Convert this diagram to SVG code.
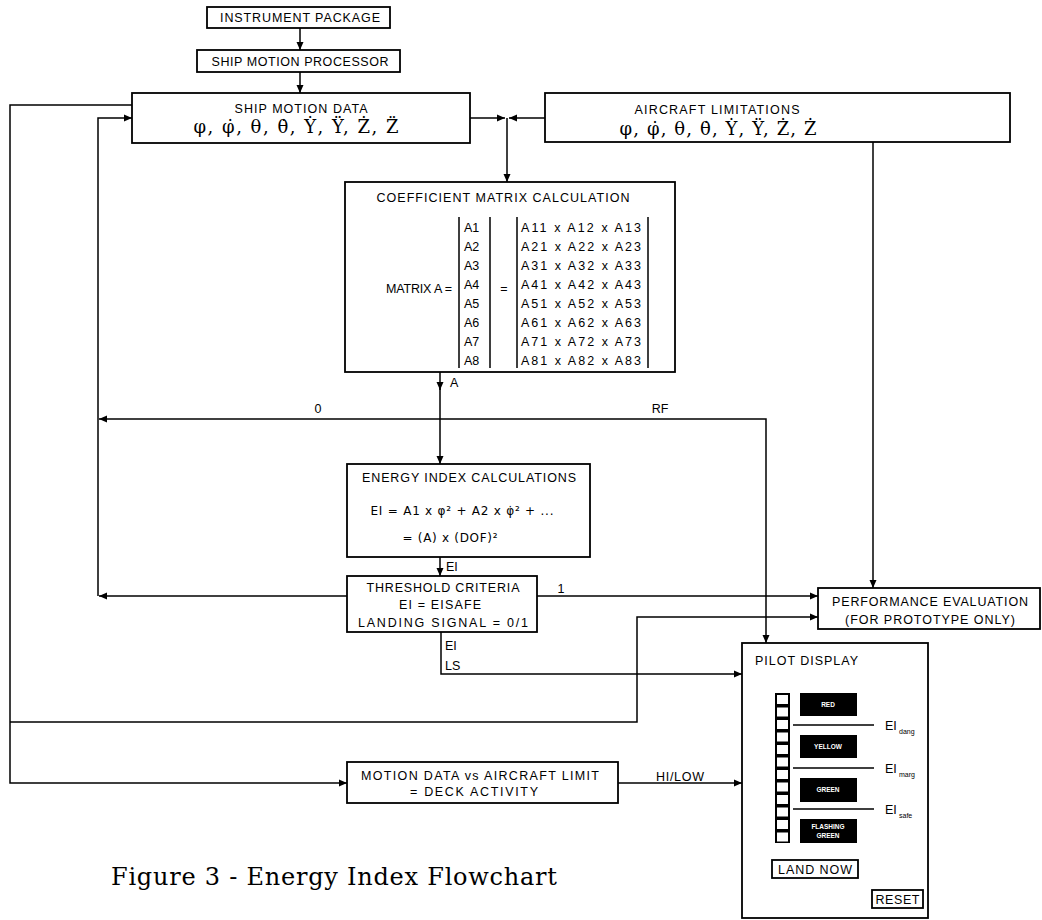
<svg xmlns="http://www.w3.org/2000/svg" width="1042" height="920" viewBox="0 0 1042 920">
<style>
.box{fill:#fff;stroke:#000;stroke-width:1.8}
.ln{fill:none;stroke:#000;stroke-width:1.5}
.t{font-family:"Liberation Sans","DejaVu Sans",sans-serif;font-size:12.5px;fill:#000;text-anchor:middle}
.tl{font-family:"Liberation Sans","DejaVu Sans",sans-serif;font-size:12.5px;fill:#000}
.f{font-family:"DejaVu Sans","Liberation Sans",sans-serif;font-size:12px;fill:#000;text-anchor:middle}
.g{font-family:"DejaVu Serif","Liberation Serif",serif;font-size:18px;fill:#000;text-anchor:middle}
.w{font-family:"Liberation Sans","DejaVu Sans",sans-serif;font-size:6.5px;font-weight:bold;fill:#fff;text-anchor:middle}
.sub{font-family:"Liberation Sans","DejaVu Sans",sans-serif;font-size:7px;fill:#000}
.cap{font-family:"DejaVu Serif","Liberation Serif",serif;font-size:24px;fill:#000}
</style>
<defs>
<marker id="arr" markerWidth="8" markerHeight="8" refX="8" refY="4" orient="auto" markerUnits="userSpaceOnUse">
<path d="M0,0.5 L8,4 L0,7.5 z" fill="#000"/>
</marker>
</defs>
<rect width="1042" height="920" fill="#fff"/>

<g id="connectors">
<path class="ln" d="M300,28 V50" marker-end="url(#arr)"/>
<path class="ln" d="M300,72 V93" marker-end="url(#arr)"/>
<path class="ln" d="M470,118 H505" marker-end="url(#arr)"/>
<path class="ln" d="M545,118 H509" marker-end="url(#arr)"/>
<path class="ln" d="M507,118 V182" marker-end="url(#arr)"/>
<path class="ln" d="M440,372 V390" marker-end="url(#arr)"/>
<path class="ln" d="M440,388 V464" marker-end="url(#arr)"/>
<path class="ln" d="M440,419 H99" marker-end="url(#arr)"/>
<path class="ln" d="M440,419 H766 V643" marker-end="url(#arr)"/>
<path class="ln" d="M440,557 V576" marker-end="url(#arr)"/>
<path class="ln" d="M347,596 H99" marker-end="url(#arr)"/>
<path class="ln" d="M98,596 V118 H132" marker-end="url(#arr)"/>
<path class="ln" d="M537,596 H818" marker-end="url(#arr)"/>
<path class="ln" d="M441,632 V674 H742" marker-end="url(#arr)"/>
<path class="ln" d="M873,142 V588" marker-end="url(#arr)"/>
<path class="ln" d="M132,105 H10 V783 H347" marker-end="url(#arr)"/>
<path class="ln" d="M10,722 H637 V617 H818" marker-end="url(#arr)"/>
<path class="ln" d="M618,783 H742" marker-end="url(#arr)"/>
<text class="t" x="318" y="413">0</text>
<text class="t" x="660" y="413">RF</text>
<text class="tl" x="450" y="387">A</text>
<text class="tl" x="446" y="571">EI</text>
<text class="t" x="561" y="593">1</text>
<text class="tl" x="445" y="650">EI</text>
<text class="tl" x="445" y="670">LS</text>
<text class="t" x="680" y="781" textLength="48">HI/LOW</text>
</g>

<g id="instrument-package">
<rect class="box" x="207" y="7" width="183" height="21"/>
<text class="t" x="300" y="22" textLength="160">INSTRUMENT PACKAGE</text>
</g>

<g id="ship-motion-processor">
<rect class="box" x="197" y="50" width="203" height="22"/>
<text class="t" x="300" y="66" textLength="177">SHIP MOTION PROCESSOR</text>
</g>

<g id="ship-motion-data">
<rect class="box" x="132" y="93" width="338" height="50"/>
<text class="t" x="301" y="113" textLength="133">SHIP MOTION DATA</text>
<text class="g" x="296" y="133" textLength="205">φ, φ̇, θ, θ̇, Ẏ, Ÿ, Ż, Z̈</text>
</g>

<g id="aircraft-limitations">
<rect class="box" x="545" y="93" width="465" height="49"/>
<text class="t" x="717" y="114" textLength="165">AIRCRAFT LIMITATIONS</text>
<text class="g" x="718" y="135" textLength="197">φ, φ̇, θ, θ̇, Ẏ, Ÿ, Ż, Ż</text>
</g>

<g id="coefficient-matrix">
<rect class="box" x="345" y="182" width="330" height="190"/>
<text class="t" x="503" y="202" textLength="253">COEFFICIENT MATRIX CALCULATION</text>
<text class="tl" x="386" y="293" textLength="66">MATRIX A =</text>
<path class="ln" d="M459,217 V368 M490,217 V368 M517,217 V368 M648,217 V368"/>
<text class="t" x="504" y="293">=</text>
<g class="tl">
<text x="464" y="232">A1</text>
<text x="464" y="251">A2</text>
<text x="464" y="270">A3</text>
<text x="464" y="289">A4</text>
<text x="464" y="308">A5</text>
<text x="464" y="327">A6</text>
<text x="464" y="346">A7</text>
<text x="464" y="365">A8</text>
<text x="521" y="232" textLength="120">A11 x A12 x A13</text>
<text x="521" y="251" textLength="120">A21 x A22 x A23</text>
<text x="521" y="270" textLength="120">A31 x A32 x A33</text>
<text x="521" y="289" textLength="120">A41 x A42 x A43</text>
<text x="521" y="308" textLength="120">A51 x A52 x A53</text>
<text x="521" y="327" textLength="120">A61 x A62 x A63</text>
<text x="521" y="346" textLength="120">A71 x A72 x A73</text>
<text x="521" y="365" textLength="120">A81 x A82 x A83</text>
</g>
</g>

<g id="energy-index">
<rect class="box" x="347" y="464" width="243" height="93"/>
<text class="t" x="469" y="482" textLength="214">ENERGY INDEX CALCULATIONS</text>
<text class="f" x="462" y="515" textLength="183">EI = A1 x φ² + A2 x φ̇² + ...</text>
<text class="f" x="450" y="542" textLength="95">= (A) x (DOF)²</text>
</g>

<g id="threshold-criteria">
<rect class="box" x="347" y="576" width="190" height="56"/>
<text class="t" x="443" y="592" textLength="153">THRESHOLD CRITERIA</text>
<text class="t" x="440" y="609" textLength="82">EI = EISAFE</text>
<text class="t" x="443" y="627" textLength="170">LANDING SIGNAL = 0/1</text>
</g>

<g id="performance-evaluation">
<rect class="box" x="818" y="588" width="222" height="41"/>
<text class="t" x="930" y="606" textLength="196">PERFORMANCE EVALUATION</text>
<text class="t" x="930" y="624" textLength="170">(FOR PROTOTYPE ONLY)</text>
</g>

<g id="motion-data-vs-limit">
<rect class="box" x="347" y="762" width="271" height="41"/>
<text class="t" x="480" y="780" textLength="238">MOTION DATA vs AIRCRAFT LIMIT</text>
<text class="t" x="474" y="796" textLength="128">= DECK ACTIVITY</text>
</g>

<g id="pilot-display">
<rect class="box" x="742" y="643" width="186" height="275"/>
<text class="tl" x="755" y="665" textLength="103">PILOT DISPLAY</text>
<rect x="775" y="693" width="15" height="150" fill="#000"/>
<g fill="#fff">
<rect x="777" y="695" width="11" height="9"/>
<rect x="777" y="707.5" width="11" height="9"/>
<rect x="777" y="720" width="11" height="9"/>
<rect x="777" y="732.5" width="11" height="9"/>
<rect x="777" y="745" width="11" height="9"/>
<rect x="777" y="757.5" width="11" height="9"/>
<rect x="777" y="770" width="11" height="9"/>
<rect x="777" y="782.5" width="11" height="9"/>
<rect x="777" y="795" width="11" height="9"/>
<rect x="777" y="807.5" width="11" height="9"/>
<rect x="777" y="820" width="11" height="9"/>
<rect x="777" y="832.5" width="11" height="9"/>
</g>
<rect x="800" y="693" width="57" height="23" fill="#000"/>
<text class="w" x="828" y="707">RED</text>
<rect x="800" y="735" width="57" height="23" fill="#000"/>
<text class="w" x="828" y="749">YELLOW</text>
<rect x="800" y="778" width="57" height="24" fill="#000"/>
<text class="w" x="828" y="792">GREEN</text>
<rect x="800" y="819" width="57" height="24" fill="#000"/>
<text class="w" x="828" y="829">FLASHING</text>
<text class="w" x="828" y="838">GREEN</text>
<path class="ln" d="M793,725 H874 M793,768 H874 M793,809 H874"/>
<text class="tl" x="885" y="730">EI</text>
<text class="sub" x="899" y="734">dang</text>
<text class="tl" x="885" y="773">EI</text>
<text class="sub" x="899" y="777">marg</text>
<text class="tl" x="885" y="814">EI</text>
<text class="sub" x="899" y="818">safe</text>
<rect class="box" x="772" y="860" width="86" height="18"/>
<text class="t" x="815" y="874" textLength="74">LAND NOW</text>
<rect class="box" x="872" y="890" width="51" height="18"/>
<text class="t" x="897.5" y="904" textLength="44">RESET</text>
</g>

<text class="cap" x="111" y="885" textLength="446">Figure 3 - Energy Index Flowchart</text>
</svg>
